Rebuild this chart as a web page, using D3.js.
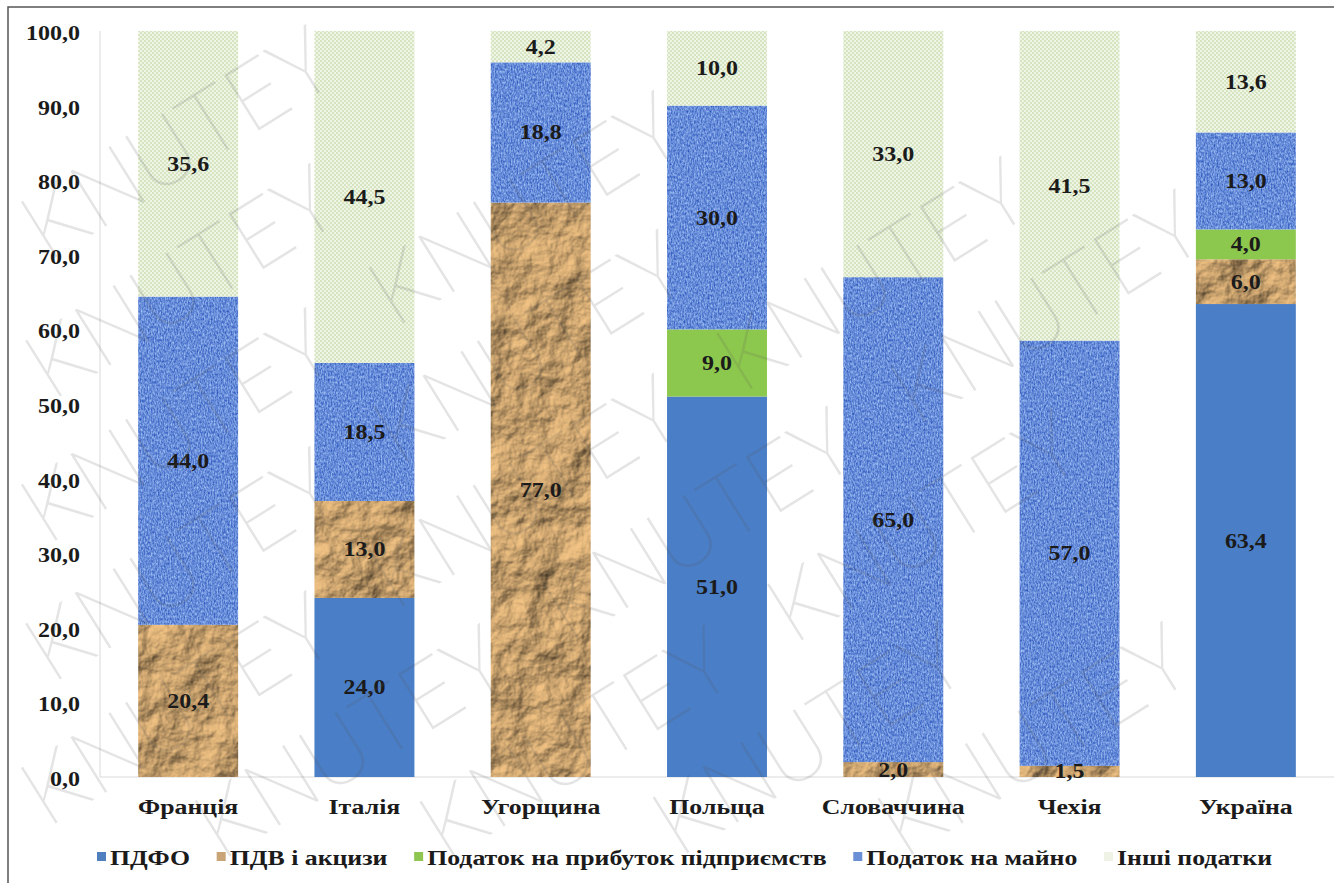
<!DOCTYPE html>
<html lang="uk">
<head>
<meta charset="utf-8">
<title>Структура податкових надходжень</title>
<script src="https://cdn.jsdelivr.net/npm/d3@7"></script>
<style>
  html, body { margin: 0; padding: 0; background: #fff; }
  svg { display: block; }
</style>
</head>
<body>
<svg id="chart" width="1334" height="883"></svg>
<script>
// Country categories along the x axis
const categories = ["Франція", "Італія", "Угорщина", "Польща", "Словаччина", "Чехія", "Україна"];
// Series names (legend order = stack order, bottom to top)
const seriesNames = ["ПДФО", "ПДВ і акцизи", "Податок на прибуток підприємств", "Податок на майно", "Інші податки"];
// Shares of each tax, %
const pdfo     = [0,    24.0, 0,    51.0, 0,    0,    63.4];
const vatExc   = [20.4, 13.0, 77.0, 0,    2.0,  1.5,  6.0];
const profit   = [0,    0,    0,    9.0,  0,    0,    4.0];
const property = [44.0, 18.5, 18.8, 30.0, 65.0, 57.0, 13.0];
const other    = [35.6, 44.5, 4.2,  10.0, 33.0, 41.5, 13.6];
// Y axis ticks
const yTicks = [0, 10, 20, 30, 40, 50, 60, 70, 80, 90, 100];

const seriesValues = [pdfo, vatExc, profit, property, other];
const keys = ["pdfo", "vat", "profit", "property", "other"];

const W = 1334, H = 883;
const margin = { left: 100, right: 0, top: 31, bottom: 106 };
const SX = 1.2;           // horizontal stretch of the lettering
const SERIF = '"Liberation Serif", "Times New Roman", serif';
const THIN = 'Roboto, Inter, "DejaVu Sans", sans-serif';

const svg = d3.select("#chart");
const defs = svg.append("defs");

// --- fills -------------------------------------------------------------
// crumpled paper (ПДВ і акцизи)
const fPaper = defs.append("filter").attr("id", "paper")
  .attr("color-interpolation-filters", "sRGB")
  .attr("filterUnits", "userSpaceOnUse").attr("x", 0).attr("y", 0).attr("width", W).attr("height", H);
fPaper.append("feTurbulence").attr("type", "fractalNoise").attr("baseFrequency", "0.024")
  .attr("numOctaves", 5).attr("seed", 11).attr("result", "noise");
fPaper.append("feDiffuseLighting").attr("in", "noise").attr("lighting-color", "#f2c384")
  .attr("surfaceScale", 7).attr("diffuseConstant", 1.0).attr("result", "lit")
  .append("feDistantLight").attr("azimuth", 225).attr("elevation", 55);
fPaper.append("feComposite").attr("in", "lit").attr("in2", "SourceGraphic").attr("operator", "in");

// woven blue (Податок на майно)
const fWeave = defs.append("filter").attr("id", "weave")
  .attr("color-interpolation-filters", "sRGB")
  .attr("filterUnits", "userSpaceOnUse").attr("x", 0).attr("y", 0).attr("width", W).attr("height", H);
fWeave.append("feTurbulence").attr("type", "fractalNoise").attr("baseFrequency", "0.7 0.38")
  .attr("numOctaves", 2).attr("seed", 3).attr("result", "noise");
fWeave.append("feColorMatrix").attr("in", "noise").attr("type", "matrix")
  .attr("values", "0.65 0 0 0 0.08  0.6 0 0 0 0.25  0.32 0 0 0 0.69  0 0 0 0 1")
  .attr("result", "col");
fWeave.append("feComposite").attr("in", "col").attr("in2", "SourceGraphic").attr("operator", "in");

// fine dotted light green (Інші податки)
const pDots = defs.append("pattern").attr("id", "dots").attr("patternUnits", "userSpaceOnUse")
  .attr("width", 4).attr("height", 4);
pDots.append("rect").attr("width", 4).attr("height", 4).attr("fill", "#eef5e4");
pDots.append("rect").attr("x", 0).attr("y", 0).attr("width", 2).attr("height", 2).attr("fill", "#d6e4c2");
pDots.append("rect").attr("x", 2).attr("y", 2).attr("width", 2).attr("height", 2).attr("fill", "#d6e4c2");

const style = {
  pdfo:     { fill: "#4a7ec6" },
  vat:      { fill: "#c9a06a", filter: "url(#paper)" },
  profit:   { fill: "#8dc84e" },
  property: { fill: "#6187d4", filter: "url(#weave)" },
  other:    { fill: "url(#dots)" }
};

// --- data --------------------------------------------------------------
const rows = categories.map((c, i) => {
  const r = { country: c };
  keys.forEach((k, j) => { r[k] = seriesValues[j][i]; });
  return r;
});
const stacked = d3.stack().keys(keys)(rows);

// --- scales ------------------------------------------------------------
const x = d3.scaleBand().domain(categories)
  .range([margin.left, W - margin.right])
  .paddingInner(0.433).paddingOuter(0.2165);
const y = d3.scaleLinear().domain([0, 100]).range([H - margin.bottom, margin.top]);

const locale = d3.formatLocale({ decimal: ",", thousands: " ", grouping: [3], currency: ["", ""] });
const fmt = locale.format(".1f");

// outer frame
svg.append("rect").attr("x", 8).attr("y", 7).attr("width", W).attr("height", H)
  .attr("fill", "none").attr("stroke", "#555").attr("stroke-width", 1.5);

// stretched serif text helper
function label(g, tx, ty, str, opts = {}) {
  return g.append("text")
    .attr("transform", `translate(${tx},${ty}) scale(${SX},1)`)
    .attr("text-anchor", opts.anchor || "middle")
    .attr("dy", opts.dy || "0.35em")
    .style("font-family", SERIF)
    .style("font-weight", "bold")
    .style("font-size", (opts.size || 20) + "px")
    .attr("fill", opts.fill || "#1b1b1b")
    .text(str);
}

// axes lines
const axisG = svg.append("g");
axisG.append("line").attr("x1", margin.left).attr("x2", margin.left)
  .attr("y1", y(100)).attr("y2", y(0)).attr("stroke", "#d9d9d9").attr("stroke-width", 1);
axisG.append("line").attr("x1", margin.left).attr("x2", W)
  .attr("y1", y(0)).attr("y2", y(0)).attr("stroke", "#d9d9d9").attr("stroke-width", 1);

// y tick labels
const yLab = svg.append("g");
yTicks.forEach(t => label(yLab, 80, y(t) + 2, fmt(t), { anchor: "end" }));

// bars
const barsG = svg.append("g");
stacked.forEach(layer => {
  const st = style[layer.key];
  barsG.append("g").selectAll("rect")
    .data(layer.filter(d => d[1] - d[0] > 0))
    .join("rect")
    .attr("x", d => x(d.data.country))
    .attr("width", x.bandwidth())
    .attr("y", d => y(d[1]))
    .attr("height", d => y(d[0]) - y(d[1]))
    .attr("fill", st.fill)
    .attr("filter", st.filter || null);
});

// value labels
const valG = svg.append("g");
stacked.forEach(layer => {
  layer.forEach(d => {
    const v = d[1] - d[0];
    if (v <= 0) return;
    label(valG, x(d.data.country) + x.bandwidth() / 2, y((d[0] + d[1]) / 2), fmt(v));
  });
});

// category labels
const catG = svg.append("g");
categories.forEach(c => label(catG, x(c) + x.bandwidth() / 2, 806, c, { size: 21.5 }));

// legend, spread between the left and right ends of the row
const legG = svg.append("g");
const legendFill = { pdfo: "#4f7fbf", vat: "#c8a477", profit: "#8fc652", property: "#6a8fd6", other: "#eef3e6" };
const legStart = 97, legEnd = 1272, ly = 857, sw = 9, sGap = 13;
const legItems = seriesNames.map((name, i) => {
  const t = label(legG, 0, ly, name, { anchor: "start", size: 21.5 });
  return { t, w: t.node().getComputedTextLength() * SX, key: keys[i] };
});
const gap = (legEnd - legStart - d3.sum(legItems, d => sGap + d.w)) / (legItems.length - 1);
let lx = legStart;
legItems.forEach(it => {
  legG.append("rect").attr("x", lx).attr("y", ly - 5).attr("width", sw).attr("height", sw)
    .attr("fill", legendFill[it.key]);
  it.t.attr("transform", `translate(${lx + sGap},${ly}) scale(${SX},1)`);
  lx += sGap + it.w + gap;
});

// KNUTEY watermark: words laid along rotated rows, each fully inside the canvas
const wm = svg.append("g").attr("pointer-events", "none");
const ang = -32, rad = ang * Math.PI / 180;
const ux = [Math.cos(rad), Math.sin(rad)], vx = [-Math.sin(rad), Math.cos(rad)];
const rowStep = 120, wordGap = 55;
const probe = wm.append("text")
  .style("font-family", THIN).style("font-weight", 100).style("font-size", "92px").text("KNUTEY");
const pb = probe.node().getBBox();
probe.remove();
const inside = (cx, cy) => [[pb.x, pb.y], [pb.x + pb.width, pb.y], [pb.x, pb.y + pb.height], [pb.x + pb.width, pb.y + pb.height]]
  .map(([px, py]) => [cx + px * ux[0] + py * vx[0], cy + px * ux[1] + py * vx[1]])
  .every(([px, py]) => px >= 1 && px <= W - 1 && py >= 1 && py <= H - 1);
d3.range(-10, 11).forEach(j => {
  let last = -Infinity;
  for (let u = -1400; u <= 1400; u += 10) {
    if (u - last < pb.width + wordGap) continue;
    const cx = W / 2 + u * ux[0] + j * rowStep * vx[0];
    const cy = H / 2 + u * ux[1] + j * rowStep * vx[1];
    if (!inside(cx, cy)) continue;
    wm.append("text")
      .style("font-family", THIN).style("font-weight", 100).style("font-size", "92px")
      .attr("fill", "#5a5a5a").attr("fill-opacity", 0.16)
      .attr("transform", `translate(${cx},${cy}) rotate(${ang})`)
      .text("KNUTEY");
    last = u;
  }
});
</script>
</body>
</html>
